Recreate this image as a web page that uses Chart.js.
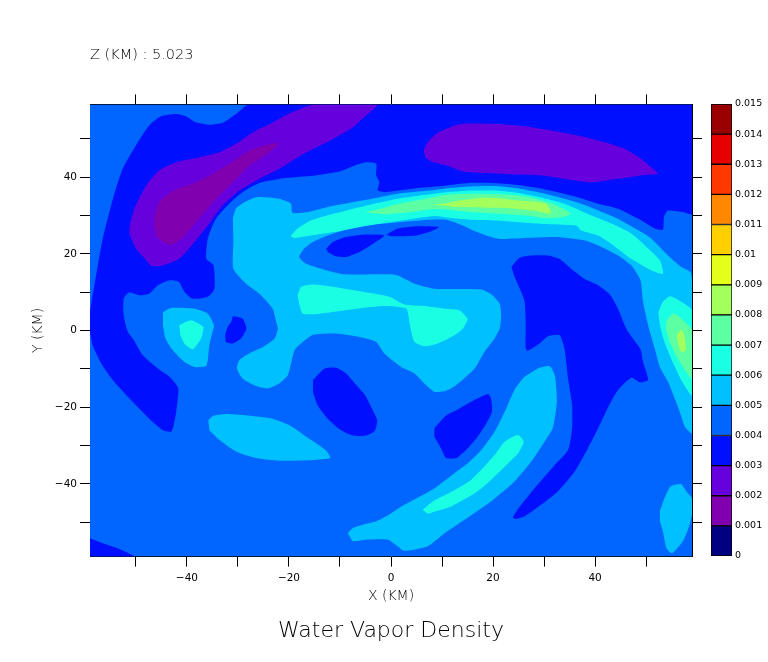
<!DOCTYPE html>
<html>
<head>
<meta charset="utf-8">
<title>Water Vapor Density</title>
<script src="https://cdn.jsdelivr.net/npm/chart.js@4/dist/chart.umd.js"></script>
<style>
  html, body { margin: 0; padding: 0; background: #fff; }
  #wrap { position: relative; width: 768px; height: 662px; overflow: hidden; }
  canvas { position: absolute; top: 0; left: 0; }
</style>
</head>
<body>
<div id="wrap">
  <canvas id="plot" width="768" height="662"></canvas>
  <canvas id="bar" width="68" height="480" style="left:700px;top:94px"></canvas>
</div>
<script>
/* Axis ticks */
const tickValues = [-50, -40, -30, -20, -10, 0, 10, 20, 30, 40, 50];
const labelledTicks = [-40, -20, 0, 20, 40];
const axisMin = -59;
const axisMax = 59;

/* Colour bar */
const barLevels = [0, 0.001, 0.002, 0.003, 0.004, 0.005, 0.006, 0.007, 0.008, 0.009, 0.01, 0.011, 0.012, 0.013, 0.014, 0.015];
const barLabels = ["0", "0.001", "0.002", "0.003", "0.004", "0.005", "0.006", "0.007", "0.008", "0.009", "0.01", "0.011", "0.012", "0.013", "0.014", "0.015"];
const barColors = ["#000080", "#8000B0", "#6600DD", "#0010FF", "#0066FF", "#00C0FF", "#1AFFE4", "#5CFFA2", "#A2FF5C", "#E4FF1A", "#FFD000", "#FF8800", "#FF3800", "#E60000", "#990000"];

/* Contour outlines in km */
const band4Base = [[-59, -59], [-59, 59], [59, 59], [59, -59]];

const band3Main = [[-59, 4.9], [-58.7, 7.5], [-57.8, 14.4], [-56.5, 24], [-54.5, 34.4], [-52.6, 42.2], [-50, 48.3], [-47.4, 53.5], [-45.1, 55.9], [-42.1, 56.5], [-40.2, 55.9], [-38.5, 54.5], [-35.6, 53.7], [-33, 54.2], [-30.4, 56.5], [-28.1, 59], [-27, 59], [58, 59], [59, 59], [59, 58], [59, 31], [59, 30.2], [57.2, 30.9], [54.3, 31.3], [53.5, 29.6], [53.3, 26.3], [51.7, 26.6], [48.4, 29.2], [44.5, 31.8], [40.6, 33.1], [36.6, 34.8], [32.7, 36.1], [28.8, 37.2], [24.9, 38], [19.6, 38.5], [15.1, 38.5], [10.5, 37.8], [5.3, 37.2], [1.3, 36.5], [-1.3, 36.1], [-2.6, 36.5], [-2.3, 38.7], [-2.9, 40.5], [-2.9, 43.5], [-4.9, 43.9], [-7.2, 43], [-10.1, 41.5], [-15.3, 40.4], [-20.6, 39.8], [-25.8, 38.5], [-29.1, 36.1], [-31.7, 33.1], [-34.3, 29.2], [-35.9, 24], [-36.2, 18.7], [-34.8, 17], [-34.6, 10.9], [-35.9, 8.8], [-38.9, 8.3], [-40.5, 10.1], [-41.6, 12.7], [-43.4, 13.1], [-45.7, 11.8], [-47.4, 9.6], [-49.3, 9.2], [-51.3, 9.9], [-52.4, 8.3], [-52.4, 4], [-51.6, -0.3], [-50.6, -2.1], [-48.7, -6.4], [-45.7, -9.9], [-43.4, -12.1], [-41.7, -15.1], [-42.1, -21.2], [-42.6, -24.7], [-43.1, -26.4], [-44.7, -26], [-47.4, -23], [-51.3, -17.7], [-54.5, -13], [-56.8, -8.6], [-58.5, -3.8], [-59, -0.3]];
const band3Corner = [[-59, -54.2], [-56.5, -55.5], [-53.6, -56.8], [-50.3, -59], [-58, -59], [-59, -59], [-59, -58]];
const band3ArchHoleA = [[-12.7, 21.3], [-11.4, 23.1], [-8.8, 24.4], [-5.5, 25], [-1.3, 24.8], [-3.6, 22.6], [-6.2, 20.5], [-8.8, 19.2], [-10.8, 19.4], [-12.4, 20.5]];
const band3ArchHoleB = [[-0.9, 25], [1.3, 26.6], [5.3, 27.2], [9.4, 27], [7.9, 25.9], [4.9, 24.8], [2, 24.6], [0, 24.6]];
const band3Tongue = [[23.6, 16.6], [25.2, 19], [27.5, 19.6], [30.8, 19.6], [33, 18.7], [35.3, 16.1], [37.9, 13.5], [40.6, 11.8], [42.9, 9.4], [44.5, 5.7], [46.1, 0.5], [47.4, -2.1], [48.9, -4.9], [49.4, -8.2], [50.4, -12.9], [48.7, -13.5], [47.1, -12.3], [44.5, -15.5], [42.8, -19.4], [40.6, -25.5], [38.6, -30.7], [36, -36.8], [32.7, -42], [29.4, -45.5], [26.2, -48.5], [24.5, -49.2], [23.9, -48.8], [25.2, -46], [28.1, -41.2], [32.1, -35.1], [34.7, -31.2], [35.5, -25.5], [35.5, -19.5], [34.7, -12.5], [34, -4.7], [33, -1.2], [30.8, -1.5], [29.1, -3.4], [26.8, -5.3], [26.4, -4.7], [26.4, 1.4], [26.2, 7.5], [25.5, 10.1], [24.2, 14]];
const band3Island = [[8.5, -25.5], [10.8, -22.2], [12.8, -20.8], [15.7, -18.6], [19, -16.6], [19.6, -17.7], [19.8, -21.2], [18.7, -24.2], [17, -27.7], [14.7, -31.2], [12.8, -33.3], [10.8, -33.3], [9.8, -30.7], [8.5, -27.7]];
const band3Oval = [[-15.3, -12.9], [-13, -9.9], [-10.7, -9.7], [-8.8, -11.2], [-6.8, -14.2], [-5.1, -16.8], [-3.9, -19.9], [-2.7, -23.4], [-3.2, -26.2], [-4.9, -27.4], [-7.5, -27.4], [-9.8, -26], [-12.4, -23], [-14.4, -19.5], [-15.3, -16]];
const band3Spot = [[-31, 3.8], [-29.1, 3.1], [-28.4, 1], [-28.4, 0.1], [-29.4, -2.1], [-31, -3.4], [-32.3, -3], [-32.5, -1.2], [-32, 1], [-31.3, 2.3]];

const band2Left = [[-47, 16.8], [-45.1, 16.8], [-41.5, 18.7], [-38.5, 23.1], [-35.9, 27.4], [-33, 32.6], [-29.7, 36.5], [-25.8, 39.6], [-21.9, 42.2], [-16.6, 46.5], [-11.4, 50], [-7.5, 53], [-4.9, 56.1], [-2.7, 59], [-15, 59], [-19.3, 57], [-23.2, 54.3], [-27.1, 51.7], [-30.4, 48.7], [-33.6, 46.5], [-37.5, 45.2], [-42.1, 43.9], [-45.4, 41.8], [-48, 37.8], [-50.3, 31.8], [-51.3, 25.7], [-50, 21.3]];
const band2Right = [[6.4, 47], [7.2, 49.1], [9.2, 51.6], [12.8, 53.6], [14.7, 54], [20.9, 53.9], [26.2, 53.3], [31.4, 52.2], [36.6, 50.9], [41.9, 49.1], [45.8, 47.4], [49, 44.8], [51, 42.6], [52.3, 40.9], [49.7, 40.6], [44.5, 39.6], [39.3, 38.7], [35.3, 39.3], [30.1, 40.4], [24.9, 40.7], [18.3, 41.1], [14.1, 41.5], [11.1, 43], [7.9, 44.1], [6.7, 45.2]];
const band1Left = [[-43.1, 22.2], [-41.1, 24], [-38.2, 28.3], [-34.9, 33.5], [-31.7, 37.8], [-27.7, 43], [-23.8, 46.5], [-21.9, 48.9], [-24.5, 48.4], [-27.7, 47], [-31.7, 43.5], [-35.6, 40.4], [-38.9, 38.3], [-42.8, 36.4], [-45.4, 33.5], [-46.4, 29.2], [-46, 24.8], [-44.7, 23.1]];

const band5Main = [[-31, 29.2], [-30.4, 31.8], [-28.4, 33.7], [-26.4, 34.8], [-21.9, 34.4], [-20.9, 33.9], [-19.6, 33.1], [-19.3, 30.7], [-16.3, 30.9], [-11.1, 32.6], [-4.5, 34.2], [1.3, 35.7], [7.5, 36.5], [11.5, 37.2], [15.4, 37.6], [20.6, 37.7], [25.2, 37], [29.8, 35.8], [36.3, 33.5], [40.6, 31.3], [44.5, 29.1], [48.4, 26.2], [51, 24], [54.3, 19.6], [56.9, 16.6], [58.7, 15.3], [59, 13.1], [59, -26.8], [57.6, -25.1], [56.6, -21.2], [55.6, -17.7], [54.3, -13.4], [52.7, -9.5], [51.7, -4.7], [50.4, 1.4], [49.4, 7.5], [48.9, 13.1], [47.1, 17], [44.5, 19.6], [40.6, 22.2], [38, 23.5], [32.7, 24.4], [27.2, 24.2], [21.3, 23.9], [18.7, 24.8], [16.1, 26.1], [14.1, 27.4], [10.8, 28.9], [7.5, 28.9], [-1.3, 27.9], [-7.8, 26.7], [-12.4, 24.8], [-15.3, 23.1], [-17, 21.4], [-18, 19.2], [-16.6, 17.4], [-12.7, 15.7], [-9.4, 14.7], [-0.3, 14.7], [1.3, 14.4], [4.6, 12.2], [8.5, 10.9], [17.7, 10.7], [19.6, 9.5], [21.3, 7], [21.6, 4], [21.3, 0.5], [20.3, -2.1], [18.3, -5.6], [16.4, -9.9], [12.8, -14.2], [10.8, -15.7], [8.5, -16], [6.9, -14.3], [4.6, -11.2], [2, -9.5], [-1.3, -6], [-2.9, -3], [-6.2, -1.7], [-10.8, -0.8], [-15.3, -1.1], [-17.3, -3], [-18.9, -5.1], [-20.2, -11.6], [-21.9, -13.8], [-24.2, -15.1], [-26.4, -14.5], [-29.1, -12.5], [-30.2, -9.9], [-29.7, -7.7], [-27.8, -6], [-25.1, -4.3], [-22.8, -2.1], [-22.2, 0.5], [-22.5, 2.3], [-23.2, 5.7], [-25.8, 9.6], [-28.4, 12.2], [-30.9, 16.1], [-30.9, 23.1]];
const band5Spot = [[-44.7, 4.8], [-43.1, 5.9], [-38.5, 5.7], [-35.9, 4.4], [-34.7, 1.4], [-34.9, 0.1], [-35.6, -3.8], [-36.2, -9.2], [-38.5, -9.5], [-40.5, -8.2], [-42.8, -5.1], [-44.2, -2.1], [-44.7, 1.4]];
const band5Lens = [[-35.8, -23.4], [-34.9, -22.3], [-32.3, -21.8], [-27.1, -22.3], [-23.2, -23], [-19.9, -24.7], [-16.6, -27.7], [-13, -31], [-11.9, -33.2], [-15.3, -33.8], [-21.9, -34], [-26.4, -33.3], [-30.4, -31.6], [-33.6, -28.6], [-35.6, -26]];
const band5Crescent = [[-8.5, -52.9], [-7.5, -51.6], [-5.5, -50.7], [-2.9, -49.8], [-0.3, -48], [2.6, -45.5], [8.5, -41.2], [12.5, -37.2], [15.1, -34.6], [17.7, -31.2], [20.3, -26.4], [22.3, -21.2], [24.2, -15.5], [26.2, -12.1], [28.8, -9.9], [31.1, -9.3], [32.1, -11.6], [32.5, -18.6], [31.7, -25.5], [30.1, -29], [27.5, -34.2], [24.2, -39.4], [19.6, -44.6], [14.4, -49.4], [10.5, -52.9], [7.2, -56.3], [2.6, -57.5], [1.3, -56.3], [-0.6, -54.6], [-4.9, -54.6], [-7.5, -55], [-8.1, -53.7]];
const band5Corner = [[52.7, -47.2], [53.6, -43.8], [54.8, -40.7], [56.9, -40.1], [57.9, -42], [59, -43.8], [59, -48.1], [58.3, -51.6], [57.2, -55], [55.1, -58.1], [54, -56.8], [53.3, -52.4], [52.7, -49.8]];

const band6Arch = [[-19.7, 24.6], [-18.3, 26.6], [-15.7, 28.7], [-11.1, 30.5], [-5.2, 32.5], [1.3, 34.4], [8.5, 35.7], [15.4, 36.5], [20.6, 36.5], [25.2, 35.8], [29.8, 34.6], [33.7, 33.2], [36.3, 31.8], [39.3, 30], [43.2, 27.9], [47.1, 25.3], [50.4, 21.4], [52.7, 18.3], [53.3, 14.8], [51, 15.7], [47.1, 18.7], [43.2, 22.6], [40.6, 24.8], [37.3, 26.1], [36.3, 27.4], [29.8, 27.8], [20.6, 28.7], [15.4, 28.9], [11.5, 29.4], [8.5, 29.9], [2, 28.7], [-4.5, 27.4], [-11.1, 25.7], [-15.7, 24.8], [-18.9, 24.1]];
const band6Centre = [[-18.3, 9.2], [-17.6, 11.4], [-15.3, 12], [-11.4, 11.4], [-5.5, 10.1], [-0.3, 8.8], [2.6, 6.8], [6.6, 6.4], [10.5, 5.7], [13.4, 5.3], [15, 3], [14.1, 0.5], [12.5, -1.2], [9.2, -3.4], [6.6, -4.1], [4.6, -3], [4, -0.4], [3.6, 2.3], [3, 5.7], [-1.3, 6.4], [-6.8, 5.7], [-14, 4.4], [-17.3, 4.4], [-18, 7]];
const band6Spot = [[-41.5, 1.4], [-39.2, 2.7], [-36.8, 1], [-36.8, 0.1], [-37.2, -2.1], [-38.9, -4.9], [-40.5, -3.4], [-41.3, -1.2]];
const band6Crescent = [[6.2, -46.8], [8.2, -44.6], [12.5, -41.6], [15.7, -39], [18.3, -35.5], [20.3, -32.5], [22.3, -29], [24.9, -27.3], [26, -29], [24.9, -32], [22.3, -35.5], [19.6, -39], [16.4, -42.5], [11.8, -45.9], [7.2, -47.8]];
const band6Edge = [[52.4, 4.8], [53.3, 7.5], [54.6, 8.9], [55.9, 8.3], [57.5, 7], [59, 5.3], [59, -16.85], [56.9, -12.9], [54.9, -7.3], [53.6, -3], [52.7, 1.4]];

const band7Arch = [[-5.2, 30.9], [-1.9, 31.8], [0.7, 32.8], [4, 33.7], [7.5, 34.6], [11.5, 35.5], [17.4, 35.7], [22.6, 35.5], [27.2, 34.8], [31.7, 33.1], [35.3, 30.5], [33.7, 29.6], [30.4, 29.3], [26.5, 30], [20.6, 30.5], [15.4, 30.9], [11.5, 31.5], [7.5, 31.6], [4, 30.9], [-1.3, 30.3], [-3.2, 30.5]];
const band7Edge = [[53.9, 0.5], [54.1, 2.7], [55.3, 4.4], [56.6, 3.5], [57.9, 1.8], [59, 0.1], [59, -12.5], [56.2, -7.3], [54.6, -3]];

const band8Arch = [[8.2, 32.9], [10.8, 33.2], [12.8, 33.8], [17.4, 34.6], [20.6, 34.6], [25.2, 33.9], [30.4, 33.1], [31.4, 30.5], [28.5, 31.2], [24.5, 31.8], [19.3, 32], [12.8, 32.2], [10.8, 32.5]];
const band8Edge = [[56, -1.2], [56.9, 0.2], [57.4, -0.8], [57.8, -5.1], [56.9, -5.6], [56.2, -3]];

/* Paint order: lower bands first, each colour index points into barColors */
const contourBands = [
  [4, band4Base],
  [3, band3Main], [3, band3Corner], [3, band3ArchHoleA], [3, band3ArchHoleB], [3, band3Tongue], [3, band3Island], [3, band3Oval], [3, band3Spot],
  [2, band2Left], [2, band2Right],
  [1, band1Left],
  [5, band5Main], [5, band5Spot], [5, band5Lens], [5, band5Crescent], [5, band5Corner],
  [6, band6Arch], [6, band6Centre], [6, band6Spot], [6, band6Crescent], [6, band6Edge],
  [7, band7Arch], [7, band7Edge],
  [8, band8Arch], [8, band8Edge]
];

const labelColor = "#000";
const fontFace = "'DejaVu Sans', sans-serif";
const thinWeight = 200;

function plotTicks(scale) {
  scale.ticks = tickValues.map(v => ({ value: v }));
}

function tickLabel(value) {
  if (!labelledTicks.includes(value)) return "";
  return value < 0 ? "\u2212" + Math.abs(value) : String(value);
}

function frameAxis(position, size, extra) {
  const vertical = position === "left" || position === "right";
  return Object.assign({
    type: "linear",
    position: position,
    min: axisMin,
    max: axisMax,
    afterBuildTicks: plotTicks,
    afterFit: s => { if (vertical) s.width = size; else s.height = size; },
    border: { color: "#000", width: 1 },
    grid: { drawOnChartArea: false, drawTicks: true, tickLength: 10, color: "#000", lineWidth: 1 },
    ticks: { display: false }
  }, extra);
}

function labelledAxisTicks(pad) {
  return {
    display: true,
    autoSkip: false,
    maxRotation: 0,
    padding: pad,
    color: labelColor,
    font: { family: fontFace, size: 10.5, weight: "normal" },
    callback: tickLabel
  };
}

function axisTitle(text) {
  return {
    display: true,
    text: text,
    color: labelColor,
    padding: { top: 0, bottom: 0 },
    font: { family: fontFace, size: 14, weight: thinWeight }
  };
}

new Chart(document.getElementById("plot"), {
  type: "scatter",
  data: {
    datasets: contourBands.map(([colorIndex, outline], i) => ({
      data: outline.map(([x, y]) => ({ x, y })),
      showLine: true,
      fill: "shape",
      tension: outline === band4Base ? 0 : 0.2,
      pointRadius: 0,
      borderWidth: 0,
      backgroundColor: barColors[colorIndex],
      order: contourBands.length - i
    }))
  },
  options: {
    responsive: false,
    animation: false,
    layout: { padding: { left: 30, right: 66, top: 0, bottom: 0 } },
    plugins: {
      legend: { display: false },
      tooltip: { enabled: false },
      title: {
        display: true,
        text: "Z (KM) : 5.023",
        position: "top",
        align: "start",
        fullSize: false,
        color: labelColor,
        padding: { top: 47, bottom: 30 },
        font: { family: fontFace, size: 14.5, weight: thinWeight }
      },
      subtitle: {
        display: true,
        text: "Water Vapor Density",
        position: "bottom",
        align: "center",
        fullSize: false,
        color: labelColor,
        padding: { top: 13, bottom: 18 },
        font: { family: fontFace, size: 22, weight: thinWeight }
      }
    },
    scales: {
      x: frameAxis("bottom", 48, { ticks: labelledAxisTicks(5), title: axisTitle("X (KM)") }),
      y: frameAxis("left", 60, { ticks: labelledAxisTicks(3), title: axisTitle("Y (KM)") }),
      x2: frameAxis("top", 10),
      y2: frameAxis("right", 10)
    }
  }
});

/* Colour bar: one stacked segment per level step */
new Chart(document.getElementById("bar"), {
  type: "bar",
  data: {
    labels: [""],
    datasets: barColors.map((color, i) => ({
      data: [barLevels[i + 1] - barLevels[i]],
      backgroundColor: color,
      borderColor: "#000",
      borderWidth: 1,
      borderSkipped: false,
      barPercentage: 1,
      categoryPercentage: 1
    }))
  },
  options: {
    responsive: false,
    animation: false,
    layout: { padding: { left: 11, right: 0, top: 10, bottom: 18 } },
    plugins: { legend: { display: false }, tooltip: { enabled: false } },
    scales: {
      x: { stacked: true, display: false },
      y: {
        stacked: true,
        position: "right",
        min: 0,
        max: 0.015,
        afterBuildTicks: s => { s.ticks = barLevels.map(v => ({ value: v })); },
        afterFit: s => { s.width = 36; },
        border: { display: false },
        grid: { display: false, drawTicks: false },
        ticks: {
          autoSkip: false,
          padding: 3,
          color: labelColor,
          font: { family: fontFace, size: 9.5, weight: "normal" },
          callback: (value, i) => barLabels[i]
        }
      }
    }
  }
});
</script>
</body>
</html>
